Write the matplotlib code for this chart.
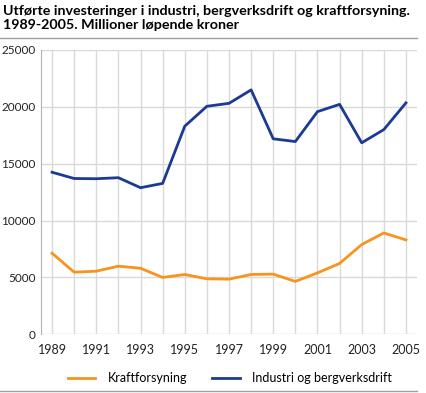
import numpy as np
import matplotlib
matplotlib.use("Agg")
import matplotlib.pyplot as plt
from matplotlib.lines import Line2D

years = list(range(1989, 2006))
kraft = [7130, 5460, 5550, 5990, 5810, 5000, 5260, 4880, 4850, 5260,
         5290, 4650, 5400, 6230, 7890, 8910, 8300]
industri = [14250, 13700, 13680, 13770, 12890, 13270, 18300, 20050, 20310,
            21490, 17190, 16950, 19580, 20220, 16840, 18000, 20350]
yticks = [0, 5000, 10000, 15000, 20000, 25000]
xticks = list(range(1989, 2006, 2))

plt.rcParams['font.family'] = ['Lato', 'DejaVu Sans']

fig = plt.figure(figsize=(4.26, 3.93), dpi=100)
ax = fig.add_axes([41 / 426, 1 - 334.3 / 393, 376 / 426, 284.3 / 393])

ax.plot(years, kraft, color='#f7931e', lw=2, label='Kraftforsyning')
ax.plot(years, industri, color='#1b3a93', lw=2, label='Industri og bergverksdrift')

ax.set_xlim(1988.5, 2005.5)
ax.set_ylim(0, 25000)
ax.set_yticks(yticks)
ax.set_xticks(years)
ax.set_xticklabels([str(y) if y in xticks else '' for y in years])
ax.grid(True, color='#d9d9d9', lw=1)
ax.set_axisbelow(True)
for s in ['top', 'right', 'bottom']:
    ax.spines[s].set_visible(False)
ax.spines['left'].set_color('#b3b3b3')
ax.tick_params(length=0, labelsize=8.5, colors='#222222')
ax.tick_params(axis='x', pad=7, labelsize=9)
ax.tick_params(axis='y', pad=4)

fig.text(0.008, 1 - 5 / 393, 'Utførte investeringer i industri, bergverksdrift og kraftforsyning.\n1989-2005. Millioner løpende kroner',
         fontsize=10.3, fontweight='bold', va='top', ha='left', linespacing=1.2)

fig.add_artist(Line2D([0, 417 / 426], [1 - 38 / 393] * 2, color='#a0a0a0', lw=1))
fig.add_artist(Line2D([0, 417 / 426], [1 - 391 / 393] * 2, color='#a0a0a0', lw=1))

handles, labels = ax.get_legend_handles_labels()
fig.legend(handles, labels, loc='center', bbox_to_anchor=(230 / 426, 1 - 378 / 393), ncol=2,
           frameon=False, fontsize=9, handlelength=2.2, columnspacing=2.0, handletextpad=1.0)

fig.savefig('out.png', dpi=100)
